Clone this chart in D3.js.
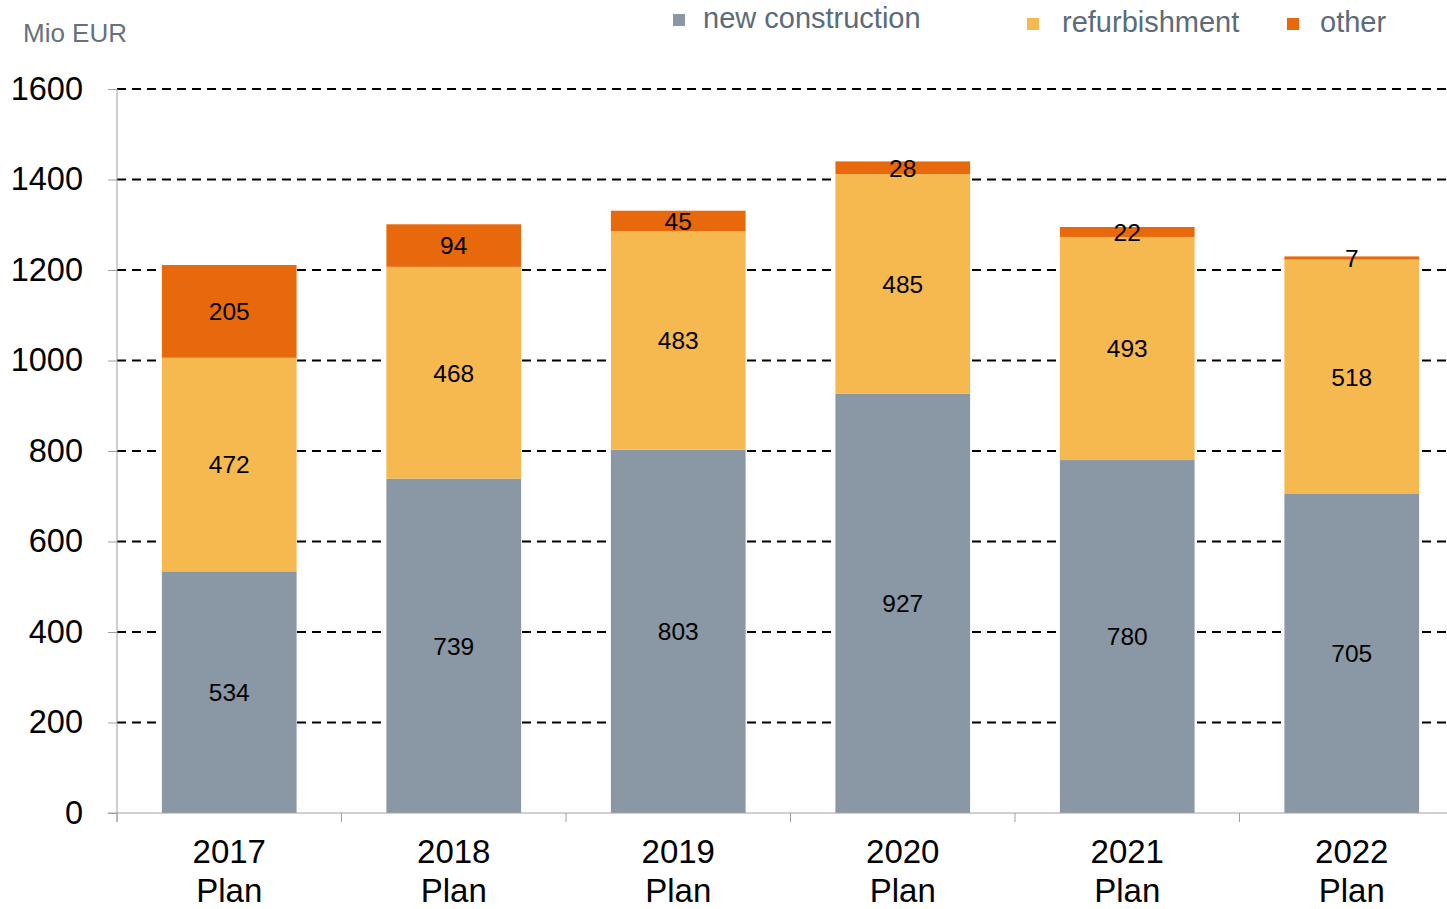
<!DOCTYPE html>
<html>
<head>
<meta charset="utf-8">
<script src="https://cdn.jsdelivr.net/npm/d3@7"></script>
<style>
  body { margin: 0; background: #fff; }
  svg { font-family: "Liberation Sans", Arial, sans-serif; }
</style>
</head>
<body>
<div id="chart"></div>
<script>
const years = ["2017", "2018", "2019", "2020", "2021", "2022"];
const newConstruction = [534, 739, 803, 927, 780, 705];
const refurbishment = [472, 468, 483, 485, 493, 518];
const other = [205, 94, 45, 28, 22, 7];
const yTicks = [0, 200, 400, 600, 800, 1000, 1200, 1400, 1600];

const seriesNames = ["new construction", "refurbishment", "other"];
const colors = ["#8a97a5", "#f5b94f", "#e8690c"];

const svgWidth = 1447;
const svgHeight = 909;
const margin = { top: 89, right: -17, bottom: 96, left: 117 };
const chartWidth = svgWidth - margin.left - margin.right;
const chartHeight = svgHeight - margin.top - margin.bottom;

const table = years.map((y, i) => ({
    year: y,
    "new construction": newConstruction[i],
    refurbishment: refurbishment[i],
    other: other[i]
}));

const stacked = d3.stack().keys(seriesNames)(table);

const svg = d3.select("#chart")
    .append("svg")
    .attr("width", svgWidth)
    .attr("height", svgHeight);

const chartGroup = svg.append("g")
    .attr("transform", `translate(${margin.left}, ${margin.top})`);

const xScale = d3.scaleBand()
    .domain(years)
    .range([0, chartWidth])
    .paddingInner(0.4)
    .paddingOuter(0.2);

const yScale = d3.scaleLinear()
    .domain([0, 1600])
    .range([chartHeight, 0]);

// dashed gridlines
chartGroup.selectAll("line.grid")
    .data(yTicks.filter(d => d > 0))
    .enter()
    .append("line")
    .attr("class", "grid")
    .attr("x1", 0)
    .attr("x2", chartWidth)
    .attr("y1", d => yScale(d))
    .attr("y2", d => yScale(d))
    .attr("stroke", "#000")
    .attr("stroke-width", 2)
    .attr("stroke-dasharray", "9,6");

// bars
const layers = chartGroup.selectAll("g.layer")
    .data(stacked)
    .enter()
    .append("g")
    .attr("fill", (d, i) => colors[i]);

layers.selectAll("rect")
    .data(d => d)
    .enter()
    .append("rect")
    .attr("x", d => xScale(d.data.year))
    .attr("y", d => yScale(d[1]))
    .attr("width", xScale.bandwidth())
    .attr("height", d => yScale(d[0]) - yScale(d[1]));

// value labels
layers.selectAll("text")
    .data(d => d.map(p => ({ p: p, key: d.key })))
    .enter()
    .append("text")
    .attr("x", d => xScale(d.p.data.year) + xScale.bandwidth() / 2)
    .attr("y", d => (yScale(d.p[0]) + yScale(d.p[1])) / 2)
    .attr("dy", "0.36em")
    .attr("text-anchor", "middle")
    .attr("fill", "#000")
    .attr("font-size", "24.5px")
    .text(d => d.p.data[d.key]);

// left axis
const leftAxis = d3.axisLeft(yScale)
    .tickValues(yTicks)
    .tickSize(9)
    .tickPadding(25)
    .tickFormat(d3.format("d"));

const yAxis = chartGroup.append("g")
    .call(leftAxis);
yAxis.select(".domain").attr("stroke", "#a0a0a0").attr("d", `M0,0V${chartHeight + 9}`);
yAxis.selectAll(".tick line").attr("stroke", "#a0a0a0");
yAxis.selectAll(".tick text")
    .attr("font-size", "32.5px")
    .attr("fill", "#000")
    .attr("font-family", "Liberation Sans, Arial, sans-serif");

// bottom axis
const xAxisG = chartGroup.append("g")
    .attr("transform", `translate(0, ${chartHeight})`);
xAxisG.append("line")
    .attr("x1", -9)
    .attr("x2", chartWidth)
    .attr("stroke", "#a0a0a0");
const step = xScale.step();
xAxisG.selectAll("line.tick")
    .data(years)
    .enter()
    .append("line")
    .attr("x1", d => xScale(d) - step * 0.2)
    .attr("x2", d => xScale(d) - step * 0.2)
    .attr("y1", 0)
    .attr("y2", 9)
    .attr("stroke", "#a0a0a0");

const catText = xAxisG.selectAll("text.cat")
    .data(years)
    .enter()
    .append("text")
    .attr("x", d => xScale(d) + xScale.bandwidth() / 2)
    .attr("y", 50)
    .attr("text-anchor", "middle")
    .attr("font-size", "33px")
    .attr("fill", "#000");
catText.append("tspan")
    .attr("x", d => xScale(d) + xScale.bandwidth() / 2)
    .text(d => d);
catText.append("tspan")
    .attr("x", d => xScale(d) + xScale.bandwidth() / 2)
    .attr("dy", 39)
    .text("Plan");

// unit label
svg.append("text")
    .attr("x", 23)
    .attr("y", 42)
    .attr("font-size", "26px")
    .attr("fill", "#66717d")
    .text("Mio EUR");

// legend
const legendItems = [
    { name: seriesNames[0], mx: 673, tx: 703, y: 18 },
    { name: seriesNames[1], mx: 1027, tx: 1062, y: 22 },
    { name: seriesNames[2], mx: 1287, tx: 1320, y: 22 }
];
const legend = svg.selectAll("g.legend")
    .data(legendItems)
    .enter()
    .append("g");
legend.append("rect")
    .attr("x", d => d.mx)
    .attr("y", d => d.y - 4)
    .attr("width", 12)
    .attr("height", 12)
    .attr("fill", (d, i) => colors[i]);
legend.append("text")
    .attr("x", d => d.tx)
    .attr("y", d => d.y)
    .attr("dy", "0.36em")
    .attr("font-size", "29px")
    .attr("fill", "#5b6b79")
    .text(d => d.name);
</script>
</body>
</html>
